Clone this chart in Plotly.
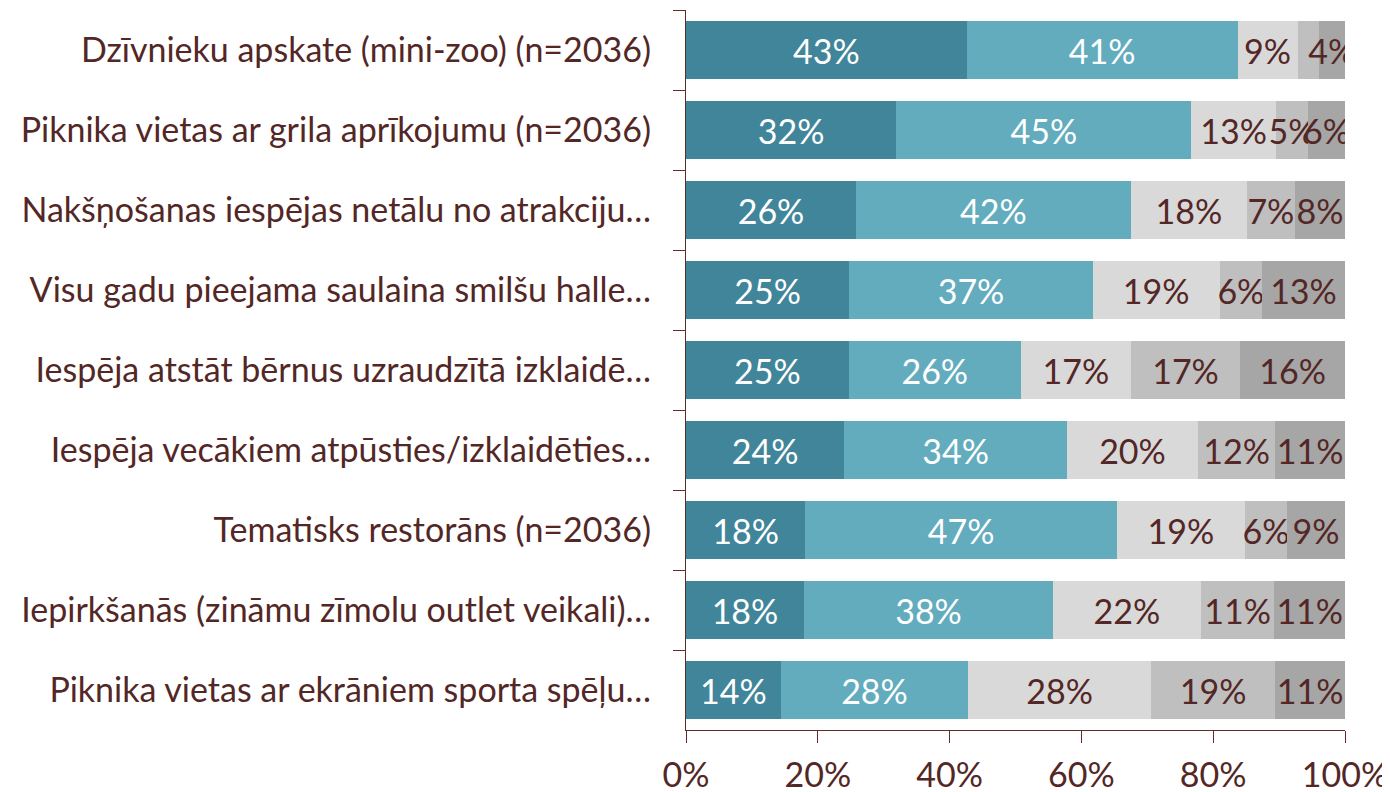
import plotly.graph_objects as go

categories = [
    "Dzīvnieku apskate (mini-zoo) (n=2036)",
    "Piknika vietas ar grila aprīkojumu (n=2036)",
    "Nakšņošanas iespējas netālu no atrakciju…",
    "Visu gadu pieejama saulaina smilšu halle…",
    "Iespēja atstāt bērnus uzraudzītā izklaidē…",
    "Iespēja vecākiem atpūsties/izklaidēties…",
    "Tematisks restorāns (n=2036)",
    "Iepirkšanās (zināmu zīmolu outlet veikali)…",
    "Piknika vietas ar ekrāniem sporta spēļu…",
]

series1 = [42.6, 31.9, 25.8, 24.8, 24.7, 24.0, 18.1, 17.9, 14.4]
series2 = [41.1, 44.8, 41.7, 36.9, 26.1, 33.8, 47.3, 37.8, 28.4]
series3 = [9.1, 12.8, 17.6, 19.3, 16.7, 19.9, 19.4, 22.4, 27.8]
series4 = [3.2, 4.9, 7.3, 6.4, 16.6, 11.7, 6.4, 11.2, 18.8]
series5 = [4.0, 5.6, 7.6, 12.6, 15.9, 10.6, 8.8, 10.7, 10.6]

x_ticks = [0, 20, 40, 60, 80, 100]
x_tick_labels = ["0%", "20%", "40%", "60%", "80%", "100%"]

colors = ["#41859A", "#62ACBE", "#D9D9D9", "#BFBFBF", "#A6A6A6"]
text_colors = ["#FFFFFF", "#FFFFFF", "#532725", "#532725", "#532725"]
axis_color = "#5A2E2B"
font_family = "Lato, 'Open Sans', sans-serif"
FS = 34

fig = go.Figure()
for vals, col, tcol in zip([series1, series2, series3, series4, series5], colors, text_colors):
    fig.add_trace(go.Bar(
        y=categories,
        x=vals,
        orientation="h",
        marker=dict(color=col, line=dict(width=0)),
        texttemplate=["%{x:.0f}%" if v >= 3.5 else "" for v in vals],
        textposition="inside",
        insidetextanchor="middle",
        textangle=0,
        constraintext="none",
        textfont=dict(color=tcol, size=FS, family=font_family),
        hoverinfo="skip",
    ))

fig.update_layout(
    barmode="stack",
    bargap=0.28,
    width=1390,
    height=792,
    margin=dict(l=678, r=53, t=2, b=70, autoexpand=False),
    paper_bgcolor="white",
    plot_bgcolor="white",
    showlegend=False,
    uniformtext=dict(minsize=FS, mode="show"),
    font=dict(family=font_family, color="#532725", size=FS),
)
fig.update_xaxes(
    range=[0, 100],
    tickvals=x_ticks,
    ticktext=x_tick_labels,
    showgrid=False,
    zeroline=False,
    showline=True,
    linecolor=axis_color,
    linewidth=1.3,
    ticks="outside",
    ticklen=12,
    tickcolor=axis_color,
    tickwidth=1.3,
    ticklabelstandoff=3,
    automargin=False,
    tickfont=dict(size=FS, color="#532725"),
)
fig.update_yaxes(
    autorange="reversed",
    showgrid=False,
    zeroline=False,
    showline=True,
    linecolor=axis_color,
    linewidth=1.3,
    ticks="outside",
    tickson="boundaries",
    ticklen=12,
    tickcolor=axis_color,
    tickwidth=1.3,
    ticklabelstandoff=27,
    automargin=False,
    tickfont=dict(size=FS, color="#532725"),
)

fig.write_html("out.html")
